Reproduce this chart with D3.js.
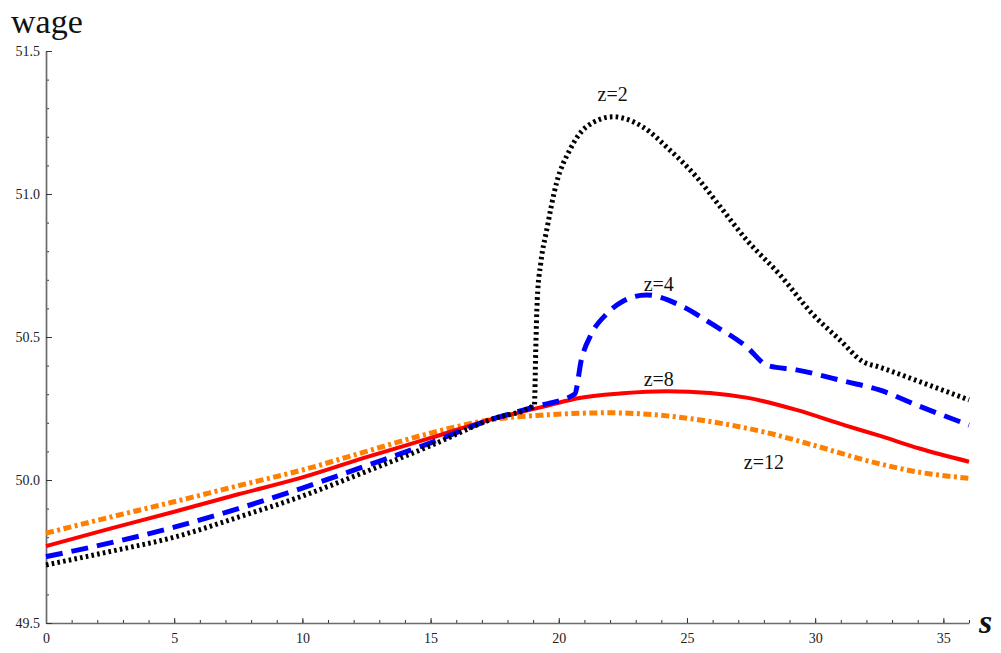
<!DOCTYPE html>
<html>
<head>
<meta charset="utf-8">
<script src="https://cdn.jsdelivr.net/npm/d3@7"></script>
<style>
  html, body { margin: 0; padding: 0; background: #fff; }
  svg { display: block; }
  svg text { font-family: "Liberation Serif", "Times New Roman", "DejaVu Serif", serif; }
</style>
</head>
<body>
<div id="chart"></div>
<script>
// wage against s, one curve per z  ([s, wage])
const z2 = [[0, 49.703], [2.5, 49.75], [5, 49.80], [7.5, 49.87], [10, 49.944], [12.5, 50.03], [15, 50.12],
  [17.3, 50.21], [19.05, 50.262], [19.1, 50.45], [19.16, 50.63], [19.3, 50.76], [19.52, 50.87],
  [19.91, 51.038], [20.43, 51.154], [21.08, 51.235], [22.12, 51.27], [23.27, 51.235], [24.33, 51.154],
  [25.37, 51.06], [26.3, 50.955], [27.32, 50.84], [28.6, 50.72], [29.9, 50.58], [30.96, 50.49],
  [31.86, 50.414], [32.5, 50.395], [34.07, 50.344], [36, 50.28]];
const z4 = [[0, 49.732], [2.5, 49.78], [5, 49.835], [7.5, 49.90], [10, 49.972], [12.5, 50.05], [15, 50.13],
  [17.3, 50.21], [19, 50.255], [20.62, 50.30], [20.88, 50.42], [21.27, 50.51], [21.86, 50.58], [22.5, 50.625],
  [23.42, 50.647], [24.84, 50.606], [25.89, 50.55], [27.32, 50.466], [28.15, 50.40], [29.27, 50.385],
  [31.2, 50.344], [32.5, 50.315], [34.07, 50.258], [36, 50.192]];
const z8 = [[0, 49.769], [2.5, 49.83], [5, 49.889], [7.5, 49.95], [10, 50.009], [12.5, 50.08], [15, 50.147],
  [17.3, 50.21], [19.65, 50.262], [20.69, 50.285], [22.5, 50.303], [24.2, 50.31], [25.9, 50.304],
  [27.32, 50.288], [29.27, 50.245], [31.2, 50.19], [32.5, 50.155], [34.07, 50.11], [36, 50.064]];
const z12 = [[0, 49.814], [2.5, 49.87], [5, 49.924], [7.5, 49.98], [10, 50.035], [12.5, 50.10], [15, 50.164],
  [17.3, 50.21], [19.4, 50.227], [22, 50.235], [24, 50.226], [26, 50.203], [28, 50.168], [30, 50.12],
  [32, 50.068], [34, 50.028], [36, 50.006]];

const seriesNames = ['z=2', 'z=4', 'z=8', 'z=12'];
const xMajor = [0, 5, 10, 15, 20, 25, 30, 35];
const yMajor = [49.5, 50.0, 50.5, 51.0, 51.5];

const width = 1001, height = 653;
const x = d3.scaleLinear().domain([0, 36]).range([46, 969]);
const y = d3.scaleLinear().domain([49.5, 51.5]).range([623, 51]);

const svg = d3.select('#chart').append('svg')
  .attr('width', width).attr('height', height);

// axes: minor ticks first, then major ticks with labels
const axisColor = '#6b6b6b';
const serif = '"Liberation Serif", "Times New Roman", "DejaVu Serif", serif';

const xMinor = d3.range(0, 37, 1);
svg.append('g').attr('transform', `translate(0,${y(49.5)})`)
  .call(d3.axisBottom(x).tickValues(xMinor).tickSize(-3).tickFormat(''))
  .call(g => g.select('.domain').remove());
svg.append('g').attr('transform', `translate(0,${y(49.5)})`)
  .call(d3.axisBottom(x).tickValues(xMajor).tickSizeInner(-5).tickSizeOuter(0).tickPadding(10).tickFormat(d3.format('d')))
  .call(g => g.select('.domain').attr('stroke', axisColor).attr('stroke-width', 1.7))
  .call(g => g.selectAll('text').attr('font-size', 14).attr('fill', '#222').attr('font-family', serif));

const yMinor = d3.range(49.5, 51.55, 0.1);
svg.append('g').attr('transform', `translate(${x(0)},0)`)
  .call(d3.axisLeft(y).tickValues(yMinor).tickSize(-3).tickFormat(''))
  .call(g => g.select('.domain').remove());
svg.append('g').attr('transform', `translate(${x(0)},0)`)
  .call(d3.axisLeft(y).tickValues(yMajor).tickSizeInner(-6).tickSizeOuter(0).tickPadding(6).tickFormat(d3.format('.1f')))
  .call(g => g.select('.domain').attr('stroke', axisColor).attr('stroke-width', 1.7))
  .call(g => g.selectAll('text').attr('font-size', 14).attr('fill', '#222').attr('font-family', serif));

svg.selectAll('.tick line').attr('stroke', '#333').attr('stroke-width', 1);

// axis titles
svg.append('text').attr('x', 11).attr('y', 33)
  .attr('font-family', serif)
  .attr('font-size', 34).attr('fill', '#111').text('wage');
svg.append('text').attr('x', 979).attr('y', 633)
  .attr('font-family', serif)
  .attr('font-size', 34).attr('font-style', 'italic').attr('font-weight', 'bold')
  .attr('fill', '#111').text('s');

// curves
const line = d3.line()
  .x(d => x(d[0]))
  .y(d => y(d[1]))
  .curve(d3.curveMonotoneX);

const styles = [
  { data: z12, color: '#ff8000', width: 5, dash: '8,3.5,3,3.5' },
  { data: z8, color: '#ff0000', width: 4, dash: null },
  { data: z4, color: '#0000ff', width: 5, dash: '17,9' },
  { data: z2, color: '#000000', width: 5, dash: '2.6,3.2' },
];

styles.forEach(st => {
  svg.append('path')
    .datum(st.data)
    .attr('d', line)
    .attr('fill', 'none')
    .attr('stroke', st.color)
    .attr('stroke-width', st.width)
    .attr('stroke-dasharray', st.dash)
    .attr('stroke-linecap', 'butt');
});

// curve labels
const labelPos = [[22.1, 51.325], [23.9, 50.66], [23.9, 50.327], [28, 50.04]];
seriesNames.forEach((name, i) => {
  svg.append('text')
    .attr('x', x(labelPos[i][0]))
    .attr('y', y(labelPos[i][1]))
    .attr('text-anchor', 'middle')
    .attr('font-family', serif)
    .attr('font-size', 20)
    .attr('fill', '#111')
    .text(name);
});
</script>
</body>
</html>
